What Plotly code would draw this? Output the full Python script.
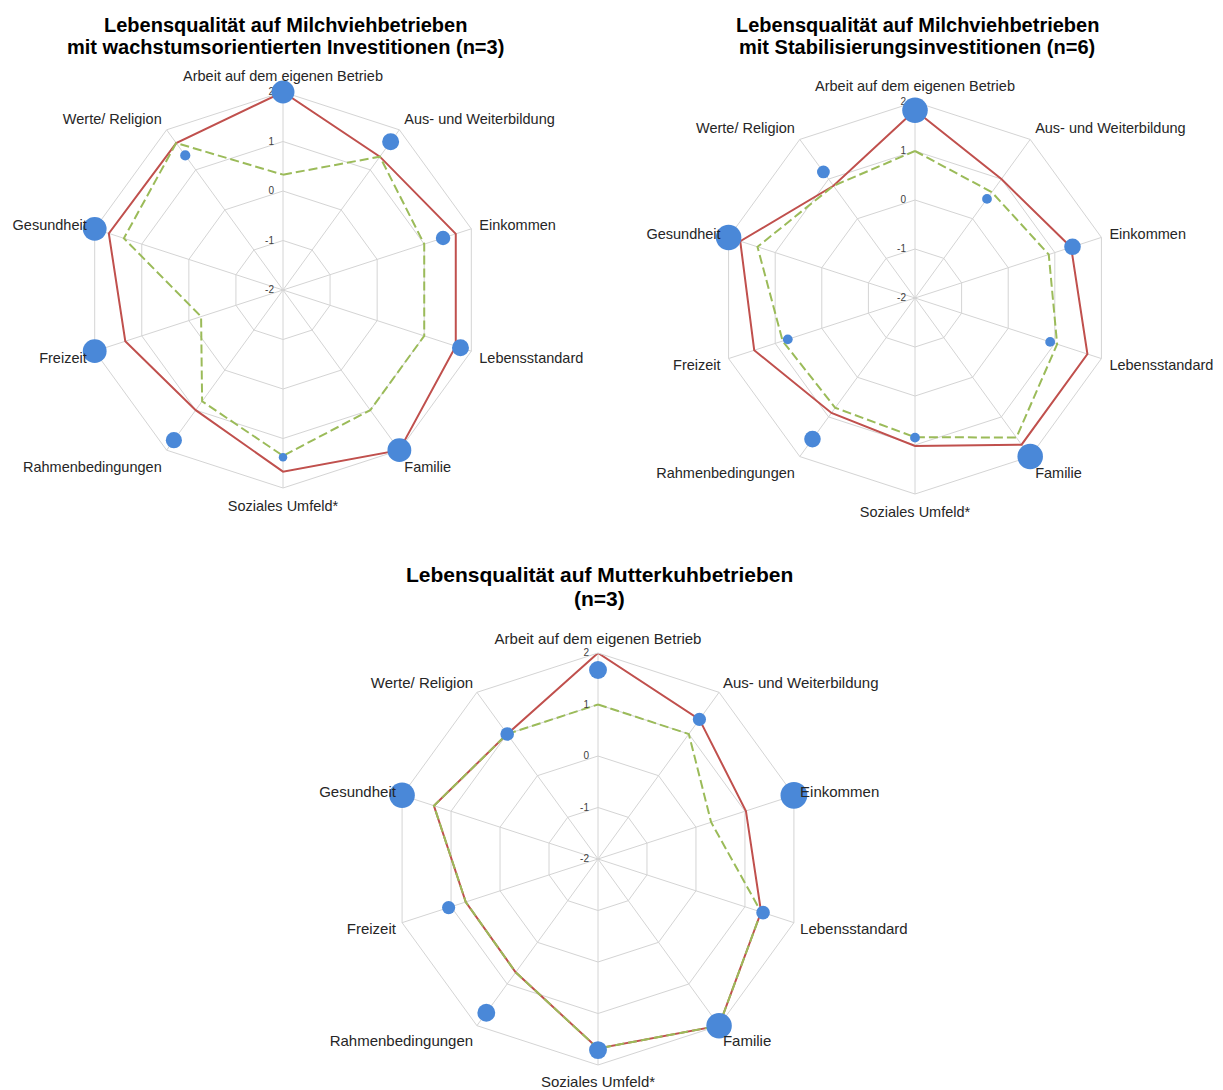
import plotly.graph_objects as go

categories = ["Arbeit auf dem eigenen Betrieb", "Aus- und Weiterbildung", "Einkommen",
              "Lebensstandard", "Familie", "Soziales Umfeld*", "Rahmenbedingungen",
              "Freizeit", "Gesundheit", "Werte/ Religion"]

title_lines = [
    ["Lebensqualität auf Milchviehbetrieben", "mit wachstumsorientierten Investitionen (n=3)"],
    ["Lebensqualität auf Milchviehbetrieben", "mit Stabilisierungsinvestitionen (n=6)"],
    ["Lebensqualität auf Mutterkuhbetrieben", "(n=3)"],
]

# Chart 1: wachstumsorientierte Investitionen (n=3)
red_1 = [2.0, 1.33, 1.67, 1.67, 2.0, 1.67, 1.0, 1.35, 1.7, 1.67]
green_1 = [0.33, 1.33, 1.0, 1.0, 1.0, 1.35, 0.78, -0.26, 1.38, 1.67]
blue_1 = [2.0, 1.7, 1.4, 1.77, 2.0, 1.38, 1.75, 2.0, 2.0, 1.36]
importance_1 = [2.7, 2.0, 1.7, 2.0, 2.8, 1.0, 1.9, 2.8, 2.8, 1.2]

# Chart 2: Stabilisierungsinvestitionen (n=6)
red_2 = [1.83, 1.0, 1.35, 1.7, 1.7, 1.02, 0.9, 1.45, 1.75, 0.83]
green_2 = [1.0, 0.67, 0.87, 1.05, 1.52, 0.84, 0.77, 0.84, 1.38, 0.83]
blue_2 = [1.83, 0.5, 1.38, 0.9, 2.0, 0.85, 1.56, 0.73, 2.0, 1.18]
importance_2 = [3.0, 1.15, 1.95, 1.15, 3.0, 1.15, 1.95, 1.15, 3.0, 1.5]

# Chart 3: Mutterkuhbetriebe (n=3)
red_3 = [2.0, 1.35, 1.02, 1.33, 2.0, 1.68, 0.72, 0.7, 1.35, 1.0]
green_3 = [1.0, 1.0, 0.31, 1.33, 2.0, 1.68, 0.72, 0.7, 1.35, 1.0]
blue_3 = [1.67, 1.35, 2.0, 1.37, 2.0, 1.71, 1.69, 1.05, 2.0, 1.0]
importance_3 = [2.1, 1.55, 3.15, 1.6, 3.0, 2.1, 2.1, 1.55, 3.0, 1.6]

radial_ticks = [-2, -1, 0, 1, 2]

RED = "#C0504D"
GREEN = "#9BBB59"
BLUE = "#4A88D8"
GRID = "#D4D4D4"
FONT = "Liberation Sans, Arial, sans-serif"

# page body margin of the html page shifts the figure by 8px
OFF = 8
W, H = 1223 - OFF, 1090 - OFF

fig = go.Figure()

datasets = [
    (red_1, green_1, blue_1, importance_1, "polar", "polar4"),
    (red_2, green_2, blue_2, importance_2, "polar2", "polar5"),
    (red_3, green_3, blue_3, importance_3, "polar3", "polar6"),
]

def closed(v):
    return list(v) + [v[0]]

for red, green, blue, imp, sub, sub_m in datasets:
    fig.add_trace(go.Scatterpolar(
        r=closed(red), theta=closed(categories), mode="lines",
        line=dict(color=RED, width=2), subplot=sub, showlegend=False))
    fig.add_trace(go.Scatterpolar(
        r=closed(green), theta=closed(categories), mode="lines",
        line=dict(color=GREEN, width=2, dash="9px,4px"), subplot=sub, showlegend=False))
    # bubbles on an overlay polar (same domain / scale) drawn on top
    fig.add_trace(go.Scatterpolar(
        r=blue, theta=categories, mode="markers", cliponaxis=False,
        marker=dict(color=BLUE, size=[v * 8.5 for v in imp], sizemode="diameter",
                    line=dict(width=0), opacity=1),
        subplot=sub_m, showlegend=False))


def dom(cx, cy, rad):
    cx -= OFF
    cy -= OFF
    return dict(x=[(cx - rad) / W, (cx + rad) / W],
                y=[(H - cy - rad) / H, (H - cy + rad) / H])

def polar_layout(d):
    return dict(
        domain=d,
        bgcolor="white",
        gridshape="linear",
        radialaxis=dict(range=[-2, 2], tickvals=radial_ticks, ticktext=[str(t) for t in radial_ticks],
                        angle=90, tickangle=90, showline=False,
                        ticks="outside", ticklen=5, tickcolor="rgba(0,0,0,0)",
                        gridcolor=GRID, gridwidth=1,
                        tickfont=dict(size=10, color="#404040", family=FONT),
                        side="counterclockwise"),
        angularaxis=dict(direction="clockwise", rotation=90,
                         categoryorder="array", categoryarray=categories,
                         showticklabels=False, ticks="",
                         showline=True, linecolor=GRID, linewidth=1,
                         gridcolor=GRID, gridwidth=1),
    )

def overlay_layout(d, lab_size, pad):
    return dict(
        domain=d,
        bgcolor="rgba(0,0,0,0)",
        gridshape="circular",
        radialaxis=dict(range=[-2, 2], visible=False, showgrid=False, showline=False,
                        showticklabels=False, ticks=""),
        angularaxis=dict(direction="clockwise", rotation=90,
                         categoryorder="array", categoryarray=categories,
                         showgrid=False, showline=False, showticklabels=True,
                         ticks="outside", ticklen=pad, tickcolor="rgba(0,0,0,0)",
                         layer="above traces",
                         tickfont=dict(size=lab_size, color="#262626", family=FONT)),
    )

def title_ann(text, x, y, size):
    return dict(text="<b>" + text + "</b>", x=(x - OFF) / W, y=1 - (y - OFF) / H,
                xref="paper", yref="paper", showarrow=False,
                xanchor="center", yanchor="middle",
                font=dict(size=size, color="black", family=FONT))

annotations = [
    title_ann(title_lines[0][0], 285, 25, 20),
    title_ann(title_lines[0][1], 285, 47, 20),
    title_ann(title_lines[1][0], 917, 25, 20),
    title_ann(title_lines[1][1], 917, 47, 20),
    title_ann(title_lines[2][0], 599, 574, 21),
    title_ann(title_lines[2][1], 599, 598, 21),
]

d1 = dom(283, 290, 198)
d2 = dom(915, 298, 196)
d3 = dom(598, 859, 206)

fig.update_layout(
    width=W, height=H,
    margin=dict(l=0, r=0, t=0, b=0),
    paper_bgcolor="white",
    plot_bgcolor="white",
    showlegend=False,
    polar=polar_layout(d1),
    polar2=polar_layout(d2),
    polar3=polar_layout(d3),
    polar4=overlay_layout(d1, 14.5, 5),
    polar5=overlay_layout(d2, 14.5, 5),
    polar6=overlay_layout(d3, 15, 3),
    annotations=annotations,
)

fig.write_html("out.html")
